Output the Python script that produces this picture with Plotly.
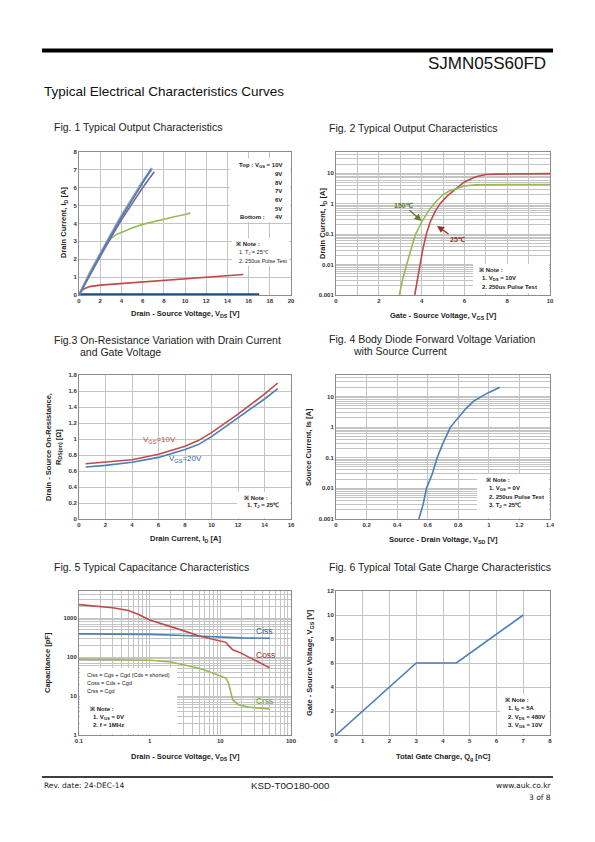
import math
import plotly.graph_objects as go

# page is drawn inside the browser's default 8px body margin
OFF = 8
W, H = 595 - 2 * OFF, 842 - 2 * OFF

# ---------------- data ----------------
# Fig 1 - output characteristics
f1_vds_10v = [0, 1, 2, 3, 4, 5, 6, 6.8]
f1_id_10v = [0, 1.15, 2.25, 3.3, 4.35, 5.3, 6.25, 7.05]
f1_vds_9v = [0, 1, 2, 3, 4, 5, 6, 6.9]
f1_id_9v = [0, 1.2, 2.3, 3.4, 4.45, 5.4, 6.35, 7.1]
f1_vds_8v = [0, 1, 2, 3, 4, 5, 6, 7.1]
f1_id_8v = [0, 1.1, 2.15, 3.2, 4.2, 5.1, 6.0, 6.9]
f1_vds_7v = [0, 1, 2, 3, 4, 5, 6, 6.85]
f1_id_7v = [0, 1.17, 2.28, 3.35, 4.4, 5.35, 6.3, 7.0]
f1_vds_6v = [0, 0.5, 1, 1.5, 2, 2.5, 3, 3.5, 4, 5, 6, 7, 8, 9, 10, 10.5]
f1_id_6v = [0, 0.65, 1.25, 1.8, 2.3, 2.75, 3.15, 3.38, 3.5, 3.75, 3.95, 4.1, 4.25, 4.38, 4.5, 4.58]
f1_vds_5v = [0, 0.2, 0.5, 0.8, 1, 2, 4, 6, 8, 10, 12, 14, 15.5]
f1_id_5v = [0, 0.2, 0.35, 0.43, 0.47, 0.55, 0.64, 0.72, 0.8, 0.88, 0.96, 1.06, 1.15]
f1_vds_4v = [0, 17]
f1_id_4v = [0.03, 0.03]
f1_legend = ["Top : V<sub>GS</sub> = 10V", "9V", "8V", "7V", "6V", "5V", "4V"]

# Fig 2 - transfer characteristics
f2_vgs_25 = [3.68, 3.8, 3.91, 4.05, 4.22, 4.4, 4.6, 4.86, 5.2, 5.6, 6.0, 6.5, 7.0, 7.5, 8, 9, 10]
f2_id_25 = [0.001, 0.003, 0.01, 0.03, 0.1, 0.25, 0.5, 1.0, 1.8, 3.0, 5.2, 7.5, 9.1, 9.4, 9.5, 9.6, 9.7]
f2_vgs_150 = [2.96, 3.1, 3.3, 3.5, 3.72, 4.0, 4.3, 4.58, 4.75, 5.0, 5.3, 5.6, 6.0, 6.5, 7, 8, 10]
f2_id_150 = [0.001, 0.003, 0.01, 0.03, 0.1, 0.25, 0.55, 1.0, 1.3, 2.0, 2.6, 3.1, 3.8, 4.15, 4.25, 4.3, 4.3]

# Fig 3 - on-resistance
f3_id = [0.5, 2, 4, 6, 8, 9, 10, 12, 14, 15]
f3_r_10v = [0.69, 0.71, 0.74, 0.81, 0.91, 0.98, 1.08, 1.31, 1.56, 1.70]
f3_r_20v = [0.65, 0.67, 0.71, 0.77, 0.87, 0.93, 1.03, 1.26, 1.50, 1.63]

# Fig 4 - body diode
f4_vsd = [0.542, 0.57, 0.592, 0.63, 0.662, 0.7, 0.749, 0.8, 0.85, 0.9, 0.957, 1.0, 1.072]
f4_is = [0.001, 0.003, 0.01, 0.03, 0.1, 0.3, 1.0, 2.0, 4.0, 7.0, 10.5, 13.5, 20]

# Fig 5 - capacitance
f5_vds_ciss = [0.1, 0.3, 1, 3, 10, 20, 50]
f5_ciss = [395, 392, 385, 360, 325, 312, 305]
f5_vds_coss = [0.1, 0.2, 0.3, 0.5, 0.7, 1, 1.5, 2, 3, 5, 7, 10, 12, 13, 15, 20, 30, 50]
f5_coss = [2240, 2000, 1850, 1570, 1250, 900, 720, 600, 480, 350, 300, 260, 240, 200, 155, 125, 85, 53]
f5_vds_crss = [0.1, 0.3, 0.5, 1, 2, 3, 5, 7, 10, 12, 13, 14, 15, 18, 25, 50]
f5_crss = [88, 85, 84, 83, 75, 65, 52, 42, 32, 29, 22, 12, 8, 6, 5.2, 4.66]

# Fig 6 - gate charge
f6_qg = [0, 3, 4.5, 7]
f6_vgs = [0, 6, 6, 10]

# tick labels
lin_x1 = [0, 2, 4, 6, 8, 10, 12, 14, 16, 18, 20]
lin_y1 = [0, 1, 2, 3, 4, 5, 6, 7, 8]
lin_x2 = [0, 2, 4, 6, 8, 10]
log_y2 = [0.001, 0.01, 0.1, 1, 10]
log_y2_text = ["0.001", "0.01", "0.1", "1", "10"]
lin_x3 = [0, 2, 4, 6, 8, 10, 12, 14, 16]
lin_y3 = [0, 0.2, 0.4, 0.6, 0.8, 1.0, 1.2, 1.4, 1.6, 1.8]
lin_x4 = [0, 0.2, 0.4, 0.6, 0.8, 1.0, 1.2, 1.4]
log_x5 = [0.1, 1, 10, 100]
log_x5_text = ["0.1", "1", "10", "100"]
log_y5 = [1, 10, 100, 1000]
log_y5_text = ["1", "10", "100", "1000"]
lin_x6 = [0, 1, 2, 3, 4, 5, 6, 7, 8]
lin_y6 = [0, 2, 4, 6, 8, 10, 12]

BLUE = "#4a7ebb"
RED = "#be4b48"
GREEN = "#98b954"
PURPLE = "#7d60a0"
CYAN = "#4bacc6"
GRAY = "#a5a5a5"
NAVY = "#1f4e79"

# ---------------- helpers ----------------
def PX(x):
    return (x - OFF) / W

def PY(y):
    return 1 - (y - OFF) / H

def log_minor(lo_exp, hi_exp, extra=()):
    return [m * 10 ** e for e in range(lo_exp, hi_exp) for m in range(2, 10)] + list(extra)

TICKFONT = dict(family="Liberation Sans, Arial", size=6, color="#333333", weight="bold")
GRID = "#c4c4c4"

def axis(domain, minor_vals=None, **kw):
    d = dict(domain=domain, showline=True, linecolor="#8c8c8c", linewidth=1, mirror=True,
             showgrid=True, gridcolor=GRID, gridwidth=0.8, zeroline=False,
             ticks="", tickfont=TICKFONT, automargin=False, fixedrange=True, tickmode="array")
    if minor_vals is not None:
        d["minor"] = dict(tickmode="array", tickvals=minor_vals, showgrid=True,
                          gridcolor=GRID, gridwidth=0.8, ticks="")
    d.update(kw)
    return d

LX = [PX(79), PX(291)]
RX = [PX(336), PX(550)]
R1 = [PY(295), PY(152)]
R2 = [PY(519), PY(375)]
R3 = [PY(735), PY(591)]

fig = go.Figure()

def line(x, y, color, ax, width=1.6, dash=None):
    fig.add_trace(go.Scatter(x=x, y=y, mode="lines", xaxis="x" + ax, yaxis="y" + ax,
                             line=dict(color=color, width=width, dash=dash),
                             hoverinfo="skip", showlegend=False))

# Fig 1
line(f1_vds_4v, f1_id_4v, NAVY, "", width=2.4)
line(f1_vds_5v, f1_id_5v, RED, "")
line(f1_vds_6v, f1_id_6v, GREEN, "")
line(f1_vds_7v, f1_id_7v, CYAN, "")
line(f1_vds_8v, f1_id_8v, PURPLE, "")
line(f1_vds_9v, f1_id_9v, GRAY, "", width=2.2)
line(f1_vds_10v, f1_id_10v, BLUE, "")
# Fig 2
line(f2_vgs_25, f2_id_25, RED, "2")
line(f2_vgs_150, f2_id_150, GREEN, "2")
# Fig 3
line(f3_id, f3_r_10v, RED, "3")
line(f3_id, f3_r_20v, BLUE, "3")
# Fig 4
line(f4_vsd, f4_is, BLUE, "4")
# Fig 5
line(f5_vds_ciss, f5_ciss, BLUE, "5")
line(f5_vds_coss, f5_coss, RED, "5")
line(f5_vds_crss, f5_crss, GREEN, "5")
# Fig 6
line(f6_qg, f6_vgs, BLUE, "6")

fig.update_layout(
    width=W, height=H, margin=dict(l=0, r=0, t=0, b=0),
    paper_bgcolor="white", plot_bgcolor="white", showlegend=False,
    xaxis=axis(LX, range=[0, 20], tickvals=lin_x1, anchor="y"),
    yaxis=axis(R1, range=[0, 8], tickvals=lin_y1, anchor="x"),
    xaxis2=axis(RX, minor_vals=[1, 3, 5, 7, 9], range=[0, 10], tickvals=lin_x2, anchor="y2"),
    yaxis2=axis(R1, minor_vals=log_minor(-3, 1, (20, 30, 40, 50)), type="log",
                range=[-3, math.log10(50)], tickvals=log_y2, ticktext=log_y2_text, anchor="x2"),
    xaxis3=axis(LX, range=[0, 16], tickvals=lin_x3, anchor="y3"),
    yaxis3=axis(R2, range=[0, 1.8], tickvals=lin_y3, anchor="x3"),
    xaxis4=axis(RX, range=[0, 1.4], tickvals=lin_x4, anchor="y4"),
    yaxis4=axis(R2, minor_vals=log_minor(-3, 1, (20, 30, 40, 50)), type="log",
                range=[-3, math.log10(50)], tickvals=log_y2, ticktext=log_y2_text, anchor="x4"),
    xaxis5=axis(LX, minor_vals=log_minor(-1, 2), type="log", range=[-1, 2],
                tickvals=log_x5, ticktext=log_x5_text, anchor="y5"),
    yaxis5=axis(R3, minor_vals=log_minor(0, 3, (2000, 3000, 4000, 5000)), type="log",
                range=[0, math.log10(5000)], tickvals=log_y5, ticktext=log_y5_text, anchor="x5"),
    xaxis6=axis(RX, range=[0, 8], tickvals=lin_x6, anchor="y6"),
    yaxis6=axis(R3, range=[0, 12], tickvals=lin_y6, anchor="x6"),
)

ann = []
shapes = []

def text(x, y, t, size=6, color="#222222", xanchor="left", yanchor="middle", weight="bold",
         family="Liberation Sans, Arial", angle=0, align="left"):
    ann.append(dict(x=PX(x), y=PY(y), xref="paper", yref="paper", text=t, showarrow=False,
                    xanchor=xanchor, yanchor=yanchor, textangle=angle, align=align,
                    font=dict(size=size, color=color, family=family, weight=weight)))

def box(x0, y0, x1, y1):
    shapes.append(dict(type="rect", xref="paper", yref="paper", x0=PX(x0), x1=PX(x1),
                       y0=PY(y1), y1=PY(y0), fillcolor="white", line=dict(width=0), layer="above"))

# header / footer
shapes.append(dict(type="rect", xref="paper", yref="paper", x0=PX(42), x1=PX(553),
                   y0=PY(52.5), y1=PY(48.5), fillcolor="black", line=dict(width=0)))
shapes.append(dict(type="line", xref="paper", yref="paper", x0=PX(42), x1=PX(553),
                   y0=PY(777), y1=PY(777), line=dict(color="black", width=1.5)))
text(548, 63, "SJMN05S60FD", size=17, color="#111111", xanchor="right", weight="normal")
text(42, 92, "Typical Electrical Characteristics Curves", size=13.5, color="#111111", weight="normal")
text(42, 785, "Rev. date: 24-DEC-14", size=7.5, family="DejaVu Sans", weight="normal")
text(290, 785, "KSD-T0O180-000", size=9.8, xanchor="center", weight="normal")
text(553, 785, "www.auk.co.kr", size=7.5, family="DejaVu Sans", xanchor="right", weight="normal")
text(553, 797, "3 of 8", size=7.5, family="DejaVu Sans", xanchor="right", weight="normal")

# figure titles
TF = 10.5
text(52, 127, "Fig. 1 Typical Output Characteristics", size=TF, weight="normal")
text(327, 128, "Fig. 2 Typical Output Characteristics", size=TF, weight="normal")
text(52, 340, "Fig.3 On-Resistance Variation with Drain Current", size=TF, weight="normal")
text(78, 352, "and Gate Voltage", size=TF, weight="normal")
text(327, 339, "Fig. 4 Body Diode Forward Voltage Variation", size=TF, weight="normal")
text(351, 351, "with Source Current", size=TF, weight="normal")
text(52, 567, "Fig. 5 Typical Capacitance Characteristics", size=TF, weight="normal")
text(327, 567, "Fig. 6 Typical Total Gate Charge Characteristics", size=TF, weight="normal")

# axis titles
AT = 7.5
text(185, 314, "Drain - Source Voltage, V<sub>DS</sub> [V]", size=AT, xanchor="center")
text(64, 223, "Drain Current, I<sub>D</sub> [A]", size=AT, xanchor="center", angle=-90)
text(443, 316, "Gate - Source Voltage, V<sub>GS</sub> [V]", size=AT, xanchor="center")
text(323, 224, "Drain Current, I<sub>D</sub> [A]", size=AT, xanchor="center", angle=-90)
text(185, 539, "Drain Current, I<sub>D</sub> [A]", size=AT, xanchor="center")
text(53, 447, "Drain - Source On-Resistance,<br>R<sub>DS(on)</sub> [Ω]", size=AT, xanchor="center",
     angle=-90, align="center")
text(443, 540, "Source - Drain Voltage, V<sub>SD</sub> [V]", size=AT, xanchor="center")
text(308, 447, "Source Current, Is [A]", size=AT, xanchor="center", angle=-90)
text(185, 757, "Drain - Source Voltage, V<sub>DS</sub> [V]", size=AT, xanchor="center")
text(47, 663, "Capacitance [pF]", size=AT, xanchor="center", angle=-90)
text(443, 757, "Total Gate Charge, Q<sub>g</sub> [nC]", size=AT, xanchor="center")
text(310, 663, "Gate - Source Voltage, V<sub>GS</sub> [V]", size=AT, xanchor="center", angle=-90)

# Fig 1 legend text and note
NF = 6
box(230, 158, 290, 222)
text(284, 165, f1_legend[0], size=NF, xanchor="right")
for i, t in enumerate(f1_legend[1:6]):
    text(284, 174 + i * 8.7, t, size=NF, xanchor="right")
text(238, 217, "Bottom :", size=NF)
text(284, 217, f1_legend[6], size=NF, xanchor="right")
box(232, 238, 289, 266)
text(234, 244, "※ Note :", size=NF)
text(237, 252.5, "1. T<sub>J</sub> = 25℃", size=5.5, weight="normal")
text(237, 261, "2. 250us Pulse Test", size=5.5, weight="normal")

# Fig 2 labels
ann.append(dict(x=PX(421.5), y=PY(221), xref="paper", yref="paper", ax=-13.5, ay=-12,
                showarrow=True, arrowhead=2, arrowsize=1,
                arrowwidth=1.4, arrowcolor="#5e7d2a", text=""))
ann.append(dict(x=PX(437), y=PY(226), xref="paper", yref="paper", ax=13, ay=9,
                showarrow=True, arrowhead=2, arrowsize=1,
                arrowwidth=1.4, arrowcolor="#9b2f2c", text=""))
text(403, 205.5, "150℃", size=7, color="#5e7d2a", xanchor="center")
text(457, 239.5, "25℃", size=7, color="#9b2f2c", xanchor="center")
box(473, 264, 549, 293)
text(477, 270, "※ Note :", size=NF)
text(480, 278.5, "1. V<sub>DS</sub> = 10V", size=NF)
text(480, 287, "2. 250us Pulse Test", size=NF)

# Fig 3 labels
text(159, 440, "V<sub>GS</sub>=10V", size=8, color=RED, xanchor="center", weight="normal")
text(185, 459, "V<sub>GS</sub>=20V", size=8, color="#2f5f9a", xanchor="center", weight="normal")
box(237, 492, 290, 518)
text(242, 497.5, "※ Note :", size=NF)
text(245, 506, "1. T<sub>J</sub> = 25℃", size=NF)

# Fig 4 note
box(477, 474, 549, 518)
text(484, 479.5, "※ Note :", size=NF)
text(487, 488.5, "1. V<sub>GS</sub> = 0V", size=NF)
text(487, 497, "2. 250us Pulse Test", size=NF)
text(487, 505.5, "3. T<sub>J</sub> = 25℃", size=NF)

# Fig 5 labels
text(264, 631, "Ciss", size=8.5, color="#2f5f9a", xanchor="center", weight="normal")
text(265, 655, "Coss", size=8.5, color="#9b2f2c", xanchor="center", weight="normal")
text(264, 701, "Crss", size=8.5, color="#7a9a3a", xanchor="center", weight="normal")
box(80, 668, 177, 734)
text(85, 675, "Ciss = Cgs + Cgd (Cds = shorted)", size=5.5, weight="normal")
text(85, 683, "Coss = Cds + Cgd", size=5.5, weight="normal")
text(85, 691, "Crss = Cgd", size=5.5, weight="normal")
text(88, 709, "※ Note :", size=NF)
text(91, 717, "1. V<sub>GS</sub> = 0V", size=NF)
text(91, 725, "2. f = 1MHz", size=NF)

# Fig 6 note
box(500, 694, 549, 734)
text(503, 700, "※ Note :", size=NF)
text(506, 708.5, "1. I<sub>D</sub> = 5A", size=NF)
text(506, 717, "2. V<sub>DS</sub> = 480V", size=NF)
text(506, 725.5, "3. V<sub>GS</sub> = 10V", size=NF)

fig.update_layout(annotations=ann, shapes=shapes)
fig.write_html("out.html")
